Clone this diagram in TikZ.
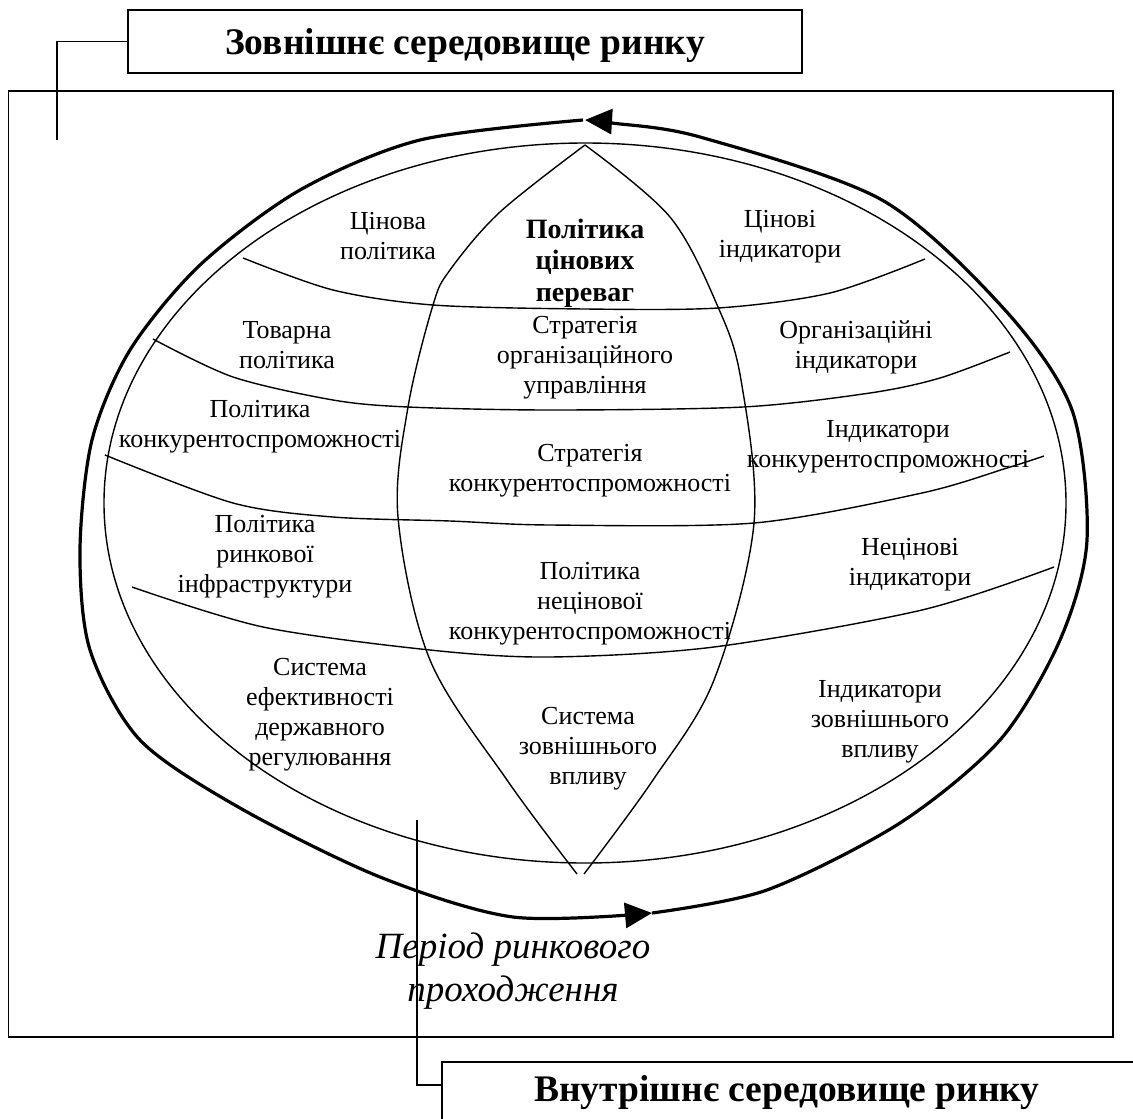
\documentclass[tikz,border=0pt]{standalone}
\usepackage{fontspec}
\setmainfont{Liberation Serif}
\usetikzlibrary{arrows.meta}

\begin{document}
\begin{tikzpicture}[
        x=1pt, y=-1pt,
        every node/.style={font=\fontsize{26}{30}\selectfont},
        cell/.style={align=center, inner sep=0pt},
        core/.style={cell, font=\fontsize{28}{31.5}\selectfont\bfseries},
        headtext/.style={inner sep=0pt, text depth=0pt, font=\fontsize{37.5}{40}\selectfont\bfseries},
        headbox/.style={headtext, draw, line width=1.6pt},
        period/.style={cell, font=\fontsize{37}{43}\selectfont\itshape},
        frame/.style={line width=1.6pt},
        grid/.style={line width=1.4pt},
        cycleflow/.style={line width=3.2pt, -{Triangle[length=27pt,width=25pt]}},
        lead/.style={line width=1.6pt}
    ]
        \useasboundingbox (0,0) rectangle (1133,1119);
        \clip (0,0) rectangle (1133,1119);

        % outer frame of the market
        \draw[frame] (8.5,91) rectangle (1113,1037);

        % globe: outline, meridians and parallels
        \draw[grid] (585,503) ellipse [x radius=481pt, y radius=360pt];
        \draw[grid] plot[smooth, tension=0.55] coordinates {(585,145) (500,212) (450,270) (433,305)
            (408,407) (398,517) (430,660) (507,780) (577,874)};
        \draw[grid] plot[smooth, tension=0.55] coordinates {(585,145) (670,217) (718,307) (741,380)
            (754,523) (714,680) (653,780) (584,874)};
        \draw[grid] plot[smooth] coordinates {(243,258) (333,290) (433,305) (585,309) (718,308)
            (830,293) (925,259)};
        \draw[grid] plot[smooth] coordinates {(153,339) (233,377) (333,400) (408,407) (550,410)
            (743,407) (870,393) (940,378) (1010,352)};
        \draw[grid] plot[smooth] coordinates {(105,455) (233,503) (333,517) (450,521) (550,525)
            (754,523) (922,493) (1007,468) (1044,456)};
        \draw[grid] plot[smooth] coordinates {(132,587) (263,627) (430,650) (550,657) (714,647)
            (922,610) (1054,567)};

        % market passage cycle
        \draw[cycleflow] plot[smooth] coordinates {(583,120) (420,140) (300,190) (200,265) (130,350)
            (92,440) (80,550) (90,650) (140,740) (240,808) (380,877) (513,917) (652,913)};
        \draw[cycleflow] plot[smooth] coordinates {(652,913) (767,890) (900,823) (1000,740) (1060,640)
            (1087,540) (1072,410) (1005,310) (882,200) (700,137) (612,123) (585,120)};

        \node[cell] (pricePol) at (388,236) {Цінова\\політика};
        \node[core] (priceAdv) at (585,263) {Політика\\цінових\\переваг};
        \node[cell] (priceInd) at (780,237) {Цінові\\індикатори};
        \node[cell] (goodsPol) at (287,345) {Товарна\\політика};
        \node[cell] (orgStrat) at (585,358) {Стратегія\\організаційного\\управління};
        \node[cell] (orgInd) at (856,347) {Організаційні\\індикатори};
        \node[cell] (compPol) at (260,427) {Політика\\конкурентоспроможності};
        \node[cell] (compStrat) at (590,471) {Стратегія\\конкурентоспроможності};
        \node[cell] (compInd) at (888,447) {Індикатори\\конкурентоспроможності};
        \node[cell] (infraPol) at (265,557) {Політика\\ринкової\\інфраструктури};
        \node[cell] (nonPricePol) at (590,604) {Політика\\нецінової\\конкурентоспроможності};
        \node[cell] (nonPriceInd) at (910,565) {Нецінові\\індикатори};
        \node[cell] (govSys) at (320,715) {Система\\ефективності\\державного\\регулювання};
        \node[cell] (extSys) at (588,749) {Система\\зовнішнього\\впливу};
        \node[cell] (extInd) at (880,722) {Індикатори\\зовнішнього\\впливу};

        \node[period] (period) at (513,971) {Період ринкового\\проходження};

        % environments
        \node[headbox, minimum width=674pt, minimum height=62.5pt] (exBox) at (465,41.5)
            {Зовнішнє середовище ринку};
        \node[headbox, anchor=north west, minimum width=720pt, minimum height=90pt] (inBox)
            at (441,1061) {};
        \node[headtext] (inText) at (787,1088) {Внутрішнє середовище ринку};
        \coordinate (exEnd) at (57,140);
        \coordinate (inEnd) at (417,820);
        \draw[lead] (exBox.west) -| (exEnd);
        \draw[lead] ([yshift=-24pt]inBox.north west) -| (inEnd);
    \end{tikzpicture}
\end{document}
